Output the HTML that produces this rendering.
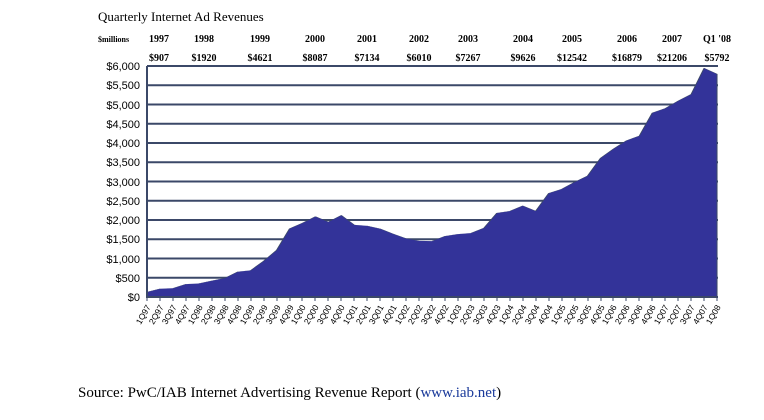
<!DOCTYPE html>
<html><head><meta charset="utf-8"><style>
body{margin:0;background:#fff;width:764px;height:420px;overflow:hidden}
svg{display:block}
.y{font-family:"Liberation Sans",sans-serif;font-size:11px;fill:#000;text-anchor:end}
.q{font-family:"Liberation Sans",sans-serif;font-size:8.5px;fill:#000;text-anchor:end}
.h{font-family:"Liberation Serif",serif;font-size:10px;font-weight:bold;fill:#000;text-anchor:middle}
</style></head><body>
<svg width="764" height="420" xmlns="http://www.w3.org/2000/svg">
<text x="98" y="21" font-family="Liberation Serif,serif" font-size="13">Quarterly Internet Ad Revenues</text>
<text x="98" y="42" font-family="Liberation Serif,serif" font-size="8" font-weight="bold">$millions</text>
<g class="h">
<text x="159" y="42">1997</text><text x="204" y="42">1998</text><text x="260" y="42">1999</text><text x="315" y="42">2000</text><text x="367" y="42">2001</text><text x="419" y="42">2002</text><text x="468" y="42">2003</text><text x="523" y="42">2004</text><text x="572" y="42">2005</text><text x="627" y="42">2006</text><text x="672" y="42">2007</text><text x="717" y="42">Q1 '08</text>
<text x="159" y="61">$907</text><text x="204" y="61">$1920</text><text x="260" y="61">$4621</text><text x="315" y="61">$8087</text><text x="367" y="61">$7134</text><text x="419" y="61">$6010</text><text x="468" y="61">$7267</text><text x="523" y="61">$9626</text><text x="572" y="61">$12542</text><text x="627" y="61">$16879</text><text x="672" y="61">$21206</text><text x="717" y="61">$5792</text>
</g>
<g stroke="#3b4868" stroke-width="2">
<line x1="147" x2="718" y1="66" y2="66"/><line x1="147" x2="718" y1="85.25" y2="85.25"/><line x1="147" x2="718" y1="104.5" y2="104.5"/><line x1="147" x2="718" y1="123.75" y2="123.75"/><line x1="147" x2="718" y1="143" y2="143"/><line x1="147" x2="718" y1="162.25" y2="162.25"/><line x1="147" x2="718" y1="181.5" y2="181.5"/><line x1="147" x2="718" y1="200.75" y2="200.75"/><line x1="147" x2="718" y1="220" y2="220"/><line x1="147" x2="718" y1="239.25" y2="239.25"/><line x1="147" x2="718" y1="258.5" y2="258.5"/><line x1="147" x2="718" y1="277.75" y2="277.75"/>
</g>
<g transform="translate(147,297) scale(12.955,-0.0385)">
<polygon fill="#333399" stroke="#3b4868" stroke-width="0.08" points="0,0 0,130 1,214 2,227 3,336 4,351 5,423 6,491 7,656 8,693 9,934 10,1217 11,1777 12,1922 13,2091 14,1951 15,2123 16,1872 17,1848 18,1773 19,1641 20,1520 21,1458 22,1451 23,1580 24,1632 25,1660 26,1793 27,2182 28,2230 29,2369 30,2233 31,2694 32,2802 33,2985 34,3146 35,3608 36,3848 37,4061 38,4186 39,4784 40,4899 41,5094 42,5267 43,5946 44,5792 44,0"/>
</g>
<line x1="147" x2="147" y1="66" y2="298" stroke="#3b4868" stroke-width="2"/>
<line x1="146" x2="718" y1="297" y2="297" stroke="#3b4868" stroke-width="2"/>
<g stroke="#3b4868" stroke-width="1">
<path d="M147 297v4M160 297v4M173 297v4M186 297v4M199 297v4M212 297v4M225 297v4M238 297v4M251 297v4M264 297v4M277 297v4M290 297v4M302 297v4M315 297v4M328 297v4M341 297v4M354 297v4M367 297v4M380 297v4M393 297v4M406 297v4M419 297v4M432 297v4M445 297v4M458 297v4M471 297v4M484 297v4M497 297v4M510 297v4M523 297v4M536 297v4M549 297v4M562 297v4M575 297v4M588 297v4M601 297v4M613 297v4M626 297v4M639 297v4M652 297v4M665 297v4M678 297v4M691 297v4M704 297v4M717 297v4"/>
</g>
<g class="y">
<text x="140" y="301">$0</text><text x="140" y="282">$500</text><text x="140" y="263">$1,000</text><text x="140" y="243">$1,500</text><text x="140" y="224">$2,000</text><text x="140" y="205">$2,500</text><text x="140" y="186">$3,000</text><text x="140" y="166">$3,500</text><text x="140" y="147">$4,000</text><text x="140" y="128">$4,500</text><text x="140" y="109">$5,000</text><text x="140" y="89">$5,500</text><text x="140" y="70">$6,000</text>
</g>
<g class="q">
<text transform="translate(151,307) rotate(-60)">1Q97</text>
<text transform="translate(164,307) rotate(-60)">2Q97</text>
<text transform="translate(177,307) rotate(-60)">3Q97</text>
<text transform="translate(190,307) rotate(-60)">4Q97</text>
<text transform="translate(203,307) rotate(-60)">1Q98</text>
<text transform="translate(216,307) rotate(-60)">2Q98</text>
<text transform="translate(229,307) rotate(-60)">3Q98</text>
<text transform="translate(242,307) rotate(-60)">4Q98</text>
<text transform="translate(255,307) rotate(-60)">1Q99</text>
<text transform="translate(268,307) rotate(-60)">2Q99</text>
<text transform="translate(281,307) rotate(-60)">3Q99</text>
<text transform="translate(294,307) rotate(-60)">4Q99</text>
<text transform="translate(306,307) rotate(-60)">1Q00</text>
<text transform="translate(319,307) rotate(-60)">2Q00</text>
<text transform="translate(332,307) rotate(-60)">3Q00</text>
<text transform="translate(345,307) rotate(-60)">4Q00</text>
<text transform="translate(358,307) rotate(-60)">1Q01</text>
<text transform="translate(371,307) rotate(-60)">2Q01</text>
<text transform="translate(384,307) rotate(-60)">3Q01</text>
<text transform="translate(397,307) rotate(-60)">4Q01</text>
<text transform="translate(410,307) rotate(-60)">1Q02</text>
<text transform="translate(423,307) rotate(-60)">2Q02</text>
<text transform="translate(436,307) rotate(-60)">3Q02</text>
<text transform="translate(449,307) rotate(-60)">4Q02</text>
<text transform="translate(462,307) rotate(-60)">1Q03</text>
<text transform="translate(475,307) rotate(-60)">2Q03</text>
<text transform="translate(488,307) rotate(-60)">3Q03</text>
<text transform="translate(501,307) rotate(-60)">4Q03</text>
<text transform="translate(514,307) rotate(-60)">1Q04</text>
<text transform="translate(527,307) rotate(-60)">2Q04</text>
<text transform="translate(540,307) rotate(-60)">3Q04</text>
<text transform="translate(553,307) rotate(-60)">4Q04</text>
<text transform="translate(566,307) rotate(-60)">1Q05</text>
<text transform="translate(579,307) rotate(-60)">2Q05</text>
<text transform="translate(592,307) rotate(-60)">3Q05</text>
<text transform="translate(605,307) rotate(-60)">4Q05</text>
<text transform="translate(617,307) rotate(-60)">1Q06</text>
<text transform="translate(630,307) rotate(-60)">2Q06</text>
<text transform="translate(643,307) rotate(-60)">3Q06</text>
<text transform="translate(656,307) rotate(-60)">4Q06</text>
<text transform="translate(669,307) rotate(-60)">1Q07</text>
<text transform="translate(682,307) rotate(-60)">2Q07</text>
<text transform="translate(695,307) rotate(-60)">3Q07</text>
<text transform="translate(708,307) rotate(-60)">4Q07</text>
<text transform="translate(721,307) rotate(-60)">1Q08</text>
</g>
<text x="78" y="397" font-family="Liberation Serif,serif" font-size="15">Source: PwC/IAB Internet Advertising Revenue Report (<tspan fill="#1a3a9a">www.iab.net</tspan>)</text>
</svg>
</body></html>
